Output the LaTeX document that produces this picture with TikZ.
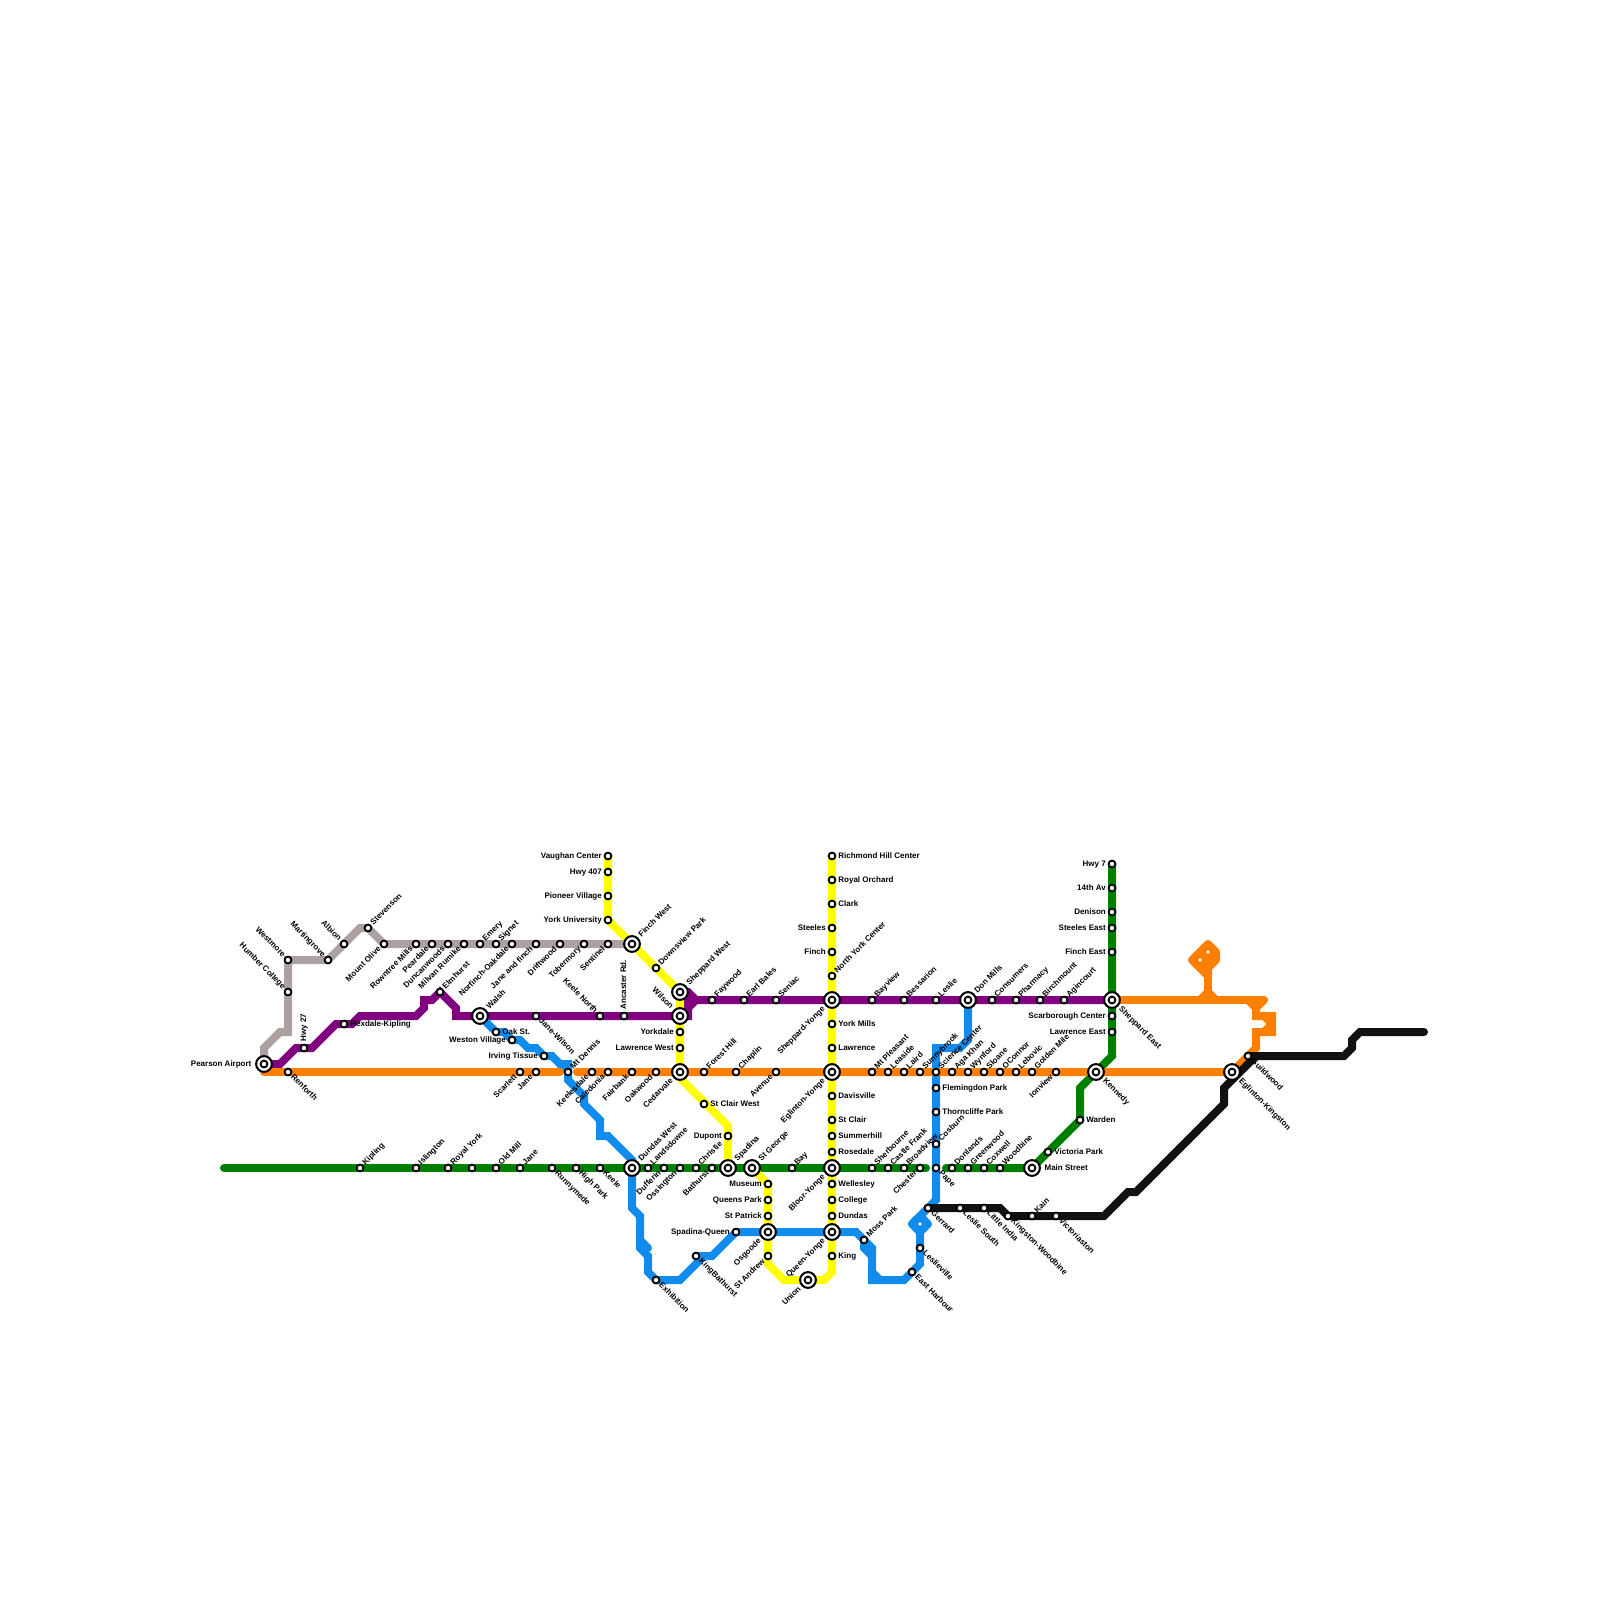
\documentclass[tikz,border=0pt]{standalone}
\usepackage{fontspec}
\setmainfont{Liberation Sans}
\definecolor{cgreen}{HTML}{008000}
\definecolor{cgrey}{HTML}{ACA0A0}
\definecolor{cpurple}{HTML}{800080}
\definecolor{cyellow}{HTML}{FFFF00}
\definecolor{cblue}{HTML}{118CED}
\definecolor{corange}{HTML}{FF8000}
\definecolor{cblack}{HTML}{111111}
\pgfdeclarelayer{bg}
\pgfsetlayers{bg,main}
\tikzset{
  stnode/.style={circle,draw=black,fill=white,line width=1.9pt,minimum size=6.8pt,inner sep=0pt,outer sep=0pt},
  xring/.style={circle,draw=black,fill=white,line width=2pt,minimum size=15.8pt,inner sep=0pt,outer sep=0pt},
  tinydot/.style={circle,fill=white,minimum size=3.6pt,inner sep=0pt,outer sep=0pt},
  lab/.style={inner sep=0pt,text height=5.8pt,text depth=1.6pt,font=\bfseries\fontsize{8}{9}\selectfont,text=black},
  lur/.style={xshift=4pt,yshift=4pt,rotate=45,anchor=west},
  ldr/.style={xshift=4pt,yshift=-4pt,rotate=-45,anchor=west},
  lul/.style={xshift=-4pt,yshift=4pt,rotate=-45,anchor=east},
  ldl/.style={xshift=-4pt,yshift=-4pt,rotate=45,anchor=east},
  ll/.style={xshift=-6pt,anchor=east},
  lr/.style={xshift=6.2pt,anchor=west},
  lu/.style={yshift=6.4pt,rotate=90,anchor=west},
  xur/.style={xshift=8pt,yshift=8pt,rotate=45,anchor=west},
  xdr/.style={xshift=8pt,yshift=-8pt,rotate=-45,anchor=west},
  xul/.style={xshift=-8pt,yshift=8pt,rotate=-45,anchor=east},
  xdl/.style={xshift=-8pt,yshift=-8pt,rotate=45,anchor=east},
  xl/.style={xshift=-12.4pt,anchor=east},
  xr/.style={xshift=12.4pt,anchor=west},
  metro/.style={line width=8pt,line cap=round,line join=miter},
  mfill/.style={line width=8pt,line cap=round,line join=round,fill},
}
\newcommand\stn[5]{\node[stnode] (#1) at (#2,#3) {};\node[lab,#4] (#1t) at (#1.center) {#5};}
\newcommand\xch[5]{\node[xring] (#1r) at (#2,#3) {};\node[stnode] (#1) at (#2,#3) {};\node[lab,#4] (#1t) at (#1.center) {#5};}
\begin{document}
\begin{tikzpicture}[x=1pt,y=-1pt]
\useasboundingbox (0,0) rectangle (1600,1600);
% interchanges
\xch{pearson}{264}{1064}{xl}{Pearson Airport}
\xch{finchwest}{632}{944}{xur}{Finch West}
\xch{walsh}{480}{1016}{xur}{Walsh}
\xch{sheppardwest}{680}{992}{xur}{Sheppard West}
\xch{wilson}{680}{1016}{xul}{Wilson}
\xch{cedarvale}{680}{1072}{xdl}{Cedarvale}
\xch{sheppardyonge}{832}{1000}{xdl}{Sheppard-Yonge}
\xch{eglintonyonge}{832}{1072}{xdl}{Eglinton-Yonge}
\xch{bloor}{832}{1168}{xdl}{Bloor-Yonge}
\xch{queenyonge}{832}{1232}{xdl}{Queen-Yonge}
\xch{osgoode}{768}{1232}{xdl}{Osgoode}
\xch{union}{808}{1280}{xdl}{Union}
\xch{dundaswest}{632}{1168}{xur}{Dundas West}
\xch{spadina}{728}{1168}{xur}{Spadina}
\xch{stgeorge}{752}{1168}{xur}{St George}
\xch{donmills}{968}{1000}{xur}{Don Mills}
\xch{sheppardeast}{1112}{1000}{xdr}{Sheppard East}
\xch{kennedy}{1096}{1072}{xdr}{Kennedy}
\xch{eglintonk}{1232}{1072}{xdr}{Eglinton-Kingston}
\xch{mainst}{1032}{1168}{xr}{Main Street}
% grey line
\stn{humber}{288}{992}{lul}{Humber College}
\stn{westmore}{288}{960}{lul}{Westmore}
\stn{martingrove}{328}{960}{lul}{Martingrove}
\stn{albion}{344}{944}{lul}{Albion}
\stn{stevenson}{368}{928}{lur}{Stevenson}
\stn{mountolive}{384}{944}{ldl}{Mount Olive}
\stn{rowntree}{416}{944}{ldl}{Rowntree Mills}
\stn{peardale}{432}{944}{ldl}{Peardale}
\stn{duncanwoods}{448}{944}{ldl}{Duncanwoods}
\stn{milvan}{464}{944}{ldl}{Milvan Rumike}
\stn{emery}{480}{944}{lur}{Emery}
\stn{signet}{496}{944}{lur}{Signet}
\stn{norfinch}{512}{944}{ldl}{Norfinch-Oakdale}
\stn{janefinch}{536}{944}{ldl}{Jane and finch}
\stn{driftwood}{560}{944}{ldl}{Driftwood}
\stn{tobermory}{584}{944}{ldl}{Tobermory}
\stn{sentinel}{608}{944}{ldl}{Sentinel}
% purple line
\stn{hwy27}{304}{1048}{lu}{Hwy 27}
\stn{rexdale}{344}{1024}{lr}{Rexdale-Kipling}
\stn{elmhurst}{440}{992}{lur}{Elmhurst}
\stn{janewilson}{536}{1016}{ldr}{Jane-Wilson}
\stn{keelenorth}{600}{1016}{lul}{Keele North}
\stn{ancaster}{624}{1016}{lu}{Ancaster Rd.}
\stn{faywood}{712}{1000}{lur}{Faywood}
\stn{earlbales}{744}{1000}{lur}{Earl Bales}
\stn{seniac}{776}{1000}{lur}{Seniac}
\stn{bayview}{872}{1000}{lur}{Bayview}
\stn{bessarion}{904}{1000}{lur}{Bessarion}
\stn{leslie}{936}{1000}{lur}{Leslie}
\stn{consumers}{992}{1000}{lur}{Consumers}
\stn{pharmacy}{1016}{1000}{lur}{Pharmacy}
\stn{birchmount}{1040}{1000}{lur}{Birchmount}
\stn{agincourt}{1064}{1000}{lur}{Agincourt}
% yellow lines
\stn{vaughan}{608}{856}{ll}{Vaughan Center}
\stn{hwyfour}{608}{872}{ll}{Hwy 407}
\stn{pioneer}{608}{896}{ll}{Pioneer Village}
\stn{yorku}{608}{920}{ll}{York University}
\stn{downsview}{656}{968}{lur}{Downsview Park}
\stn{yorkdale}{680}{1032}{ll}{Yorkdale}
\stn{lawrencew}{680}{1048}{ll}{Lawrence West}
\stn{stclairw}{704}{1104}{lr}{St Clair West}
\stn{dupont}{728}{1136}{ll}{Dupont}
\stn{museum}{768}{1184}{ll}{Museum}
\stn{queenspark}{768}{1200}{ll}{Queens Park}
\stn{stpatrick}{768}{1216}{ll}{St Patrick}
\stn{standrew}{768}{1256}{ldl}{St Andrew}
\stn{richmond}{832}{856}{lr}{Richmond Hill Center}
\stn{royalorchard}{832}{880}{lr}{Royal Orchard}
\stn{clark}{832}{904}{lr}{Clark}
\stn{steeles}{832}{928}{ll}{Steeles}
\stn{finch}{832}{952}{ll}{Finch}
\stn{northyork}{832}{976}{lur}{North York Center}
\stn{yorkmills}{832}{1024}{lr}{York Mills}
\stn{lawrence}{832}{1048}{lr}{Lawrence}
\stn{davisville}{832}{1096}{lr}{Davisville}
\stn{stclair}{832}{1120}{lr}{St Clair}
\stn{summerhill}{832}{1136}{lr}{Summerhill}
\stn{rosedale}{832}{1152}{lr}{Rosedale}
\stn{wellesley}{832}{1184}{lr}{Wellesley}
\stn{college}{832}{1200}{lr}{College}
\stn{dundas}{832}{1216}{lr}{Dundas}
\stn{king}{832}{1256}{lr}{King}
% green line
\stn{hwyseven}{1112}{864}{ll}{Hwy 7}
\stn{av14}{1112}{888}{ll}{14th Av}
\stn{denison}{1112}{912}{ll}{Denison}
\stn{steelese}{1112}{928}{ll}{Steeles East}
\stn{finche}{1112}{952}{ll}{Finch East}
\stn{scarborough}{1112}{1016}{ll}{Scarborough Center}
\stn{lawrencee}{1112}{1032}{ll}{Lawrence East}
\stn{warden}{1080}{1120}{lr}{Warden}
\stn{victoriap}{1048}{1152}{lr}{Victoria Park}
\stn{kipling}{360}{1168}{lur}{Kipling}
\stn{islington}{416}{1168}{lur}{Islington}
\stn{royalyork}{448}{1168}{lur}{Royal York}
\node[stnode] (unnamedg) at (472,1168) {};
\stn{oldmill}{496}{1168}{lur}{Old Mill}
\stn{janeg}{520}{1168}{lur}{Jane}
\stn{runnymede}{552}{1168}{ldr}{Runnymede}
\stn{highpark}{576}{1168}{ldr}{High Park}
\stn{keele}{600}{1168}{ldr}{Keele}
\stn{landsdowne}{648}{1168}{lur}{Landsdowne}
\stn{dufferin}{664}{1168}{ldl}{Dufferin}
\stn{ossington}{680}{1168}{ldl}{Ossington}
\stn{christie}{696}{1168}{lur}{Christie}
\stn{bathurst}{712}{1168}{ldl}{Bathurst}
\stn{bay}{792}{1168}{lur}{Bay}
\stn{sherbourne}{872}{1168}{lur}{Sherbourne}
\stn{castlefrank}{888}{1168}{lur}{Castle Frank}
\stn{broadview}{904}{1168}{lur}{Broadview}
\stn{chester}{920}{1168}{ldl}{Chester}
\stn{donlands}{952}{1168}{lur}{Donlands}
\stn{greenwood}{968}{1168}{lur}{Greenwood}
\stn{coxwell}{984}{1168}{lur}{Coxwell}
\stn{woodbine}{1000}{1168}{lur}{Woodbine}
% orange line
\stn{renforth}{288}{1072}{ldr}{Renforth}
\stn{scarlett}{520}{1072}{ldl}{Scarlett}
\stn{janeo}{536}{1072}{ldl}{Jane}
\stn{mtdennis}{568}{1072}{lur}{Mt Dennis}
\stn{keelesdale}{592}{1072}{ldl}{Keelesdale}
\stn{caledonia}{608}{1072}{ldl}{Caledonia}
\stn{fairbank}{632}{1072}{ldl}{Fairbank}
\stn{oakwood}{656}{1072}{ldl}{Oakwood}
\stn{foresthill}{704}{1072}{lur}{Forest Hill}
\stn{chaplin}{736}{1072}{lur}{Chaplin}
\stn{avenue}{776}{1072}{ldl}{Avenue}
\stn{mtpleasant}{872}{1072}{lur}{Mt Pleasant}
\stn{leaside}{888}{1072}{lur}{Leaside}
\stn{laird}{904}{1072}{lur}{Laird}
\stn{sunnybrook}{920}{1072}{lur}{Sunnybrook}
\stn{sciencecenter}{936}{1072}{lur}{Science Center}
\stn{agakhan}{952}{1072}{lur}{Aga Khan}
\stn{wynford}{968}{1072}{lur}{Wynford}
\stn{sloane}{984}{1072}{lur}{Sloane}
\stn{oconnor}{1000}{1072}{lur}{OConnor}
\stn{lebovic}{1016}{1072}{lur}{Lebovic}
\stn{goldenmile}{1032}{1072}{lur}{Golden Mile}
\stn{ionview}{1056}{1072}{ldl}{Ionview}
\stn{guildwood}{1248}{1056}{ldr}{Guildwood}
% blue line
\stn{oakst}{496}{1032}{lr}{Oak St.}
\stn{weston}{512}{1040}{ll}{Weston Village}
\stn{irving}{544}{1056}{ll}{Irving Tissue}
\stn{exhibition}{656}{1280}{ldr}{Exhibition}
\stn{kingbathurst}{696}{1256}{ldr}{KingBathurst}
\stn{spadinaqueen}{736}{1232}{ll}{Spadina-Queen}
\stn{mosspark}{864}{1240}{lur}{Moss Park}
\stn{eastharbour}{912}{1272}{ldr}{East Harbour}
\stn{leslieville}{920}{1248}{ldr}{Leslieville}
\stn{flemingdon}{936}{1088}{lr}{Flemingdon Park}
\stn{thorncliffe}{936}{1112}{lr}{Thorncliffe Park}
\stn{cosburn}{936}{1144}{lur}{Cosburn}
\stn{pape}{936}{1168}{ldr}{Pape}
% black line
\stn{gerrard}{928}{1208}{ldr}{Gerrard}
\stn{lesliesouth}{960}{1208}{ldr}{Leslie South}
\stn{littleindia}{984}{1208}{ldr}{Little India}
\stn{kingstonw}{1008}{1216}{ldr}{Kingston-Woodbine}
\stn{kain}{1032}{1216}{lur}{Kain}
\stn{victoriaston}{1056}{1216}{ldr}{Victoriaston}
% small white dots
\node[tinydot] (dotb) at (920,1224) {};
\node[tinydot] (dota) at (1208,952) {};
\node[tinydot] (dotc) at (1200,960) {};
% bends
\foreach \n/\x/\y in {
 ga/264/1048,gb/280/1032,gc/288/1032,gd/360/928,
 pa/280/1064,pb/296/1048,pc/312/1048,pd/336/1024,pe/352/1024,pf/360/1016,pg/416/1016,ph/424/1008,pi/424/1000,pj/432/1000,pk/456/1008,pl/456/1016,pm/688/1016,pn/688/1008,po/696/1000,pp/688/992,
 ya/680/1078,yb/728/1126,yc/768/1264,yd/784/1280,ye/824/1280,yf/832/1272,
 ea/1112/1056,eb/1080/1088,ec/946/1168,ed/926/1168,ee/224/1168,
 ba/504/1032,bb/520/1040,bc/528/1048,bd/536/1048,be/552/1056,bf/560/1064,bg/568/1064,bh/568/1080,bi/584/1096,bj/584/1104,bk/600/1120,bl/600/1136,bm/608/1136,bn/632/1160,bo/632/1208,bp/640/1216,bq/640/1248,br/648/1256,bs/648/1272,bt/680/1280,bu/704/1256,bv/712/1256,bw/856/1232,bx/872/1248,by/872/1280,bz/904/1280,
 ca/920/1264,cb/920/1232,cc/936/1200,cd/968/1040,ce/960/1048,cf/936/1048,cg/864/1248,ch/872/1256,ci/640/1240,cj/648/1248,ck/872/1272,cl/880/1280,cm/912/1224,cn/928/1224,co/920/1216,
 oa/264/1072,ob/560/1072,oc/577/1072,od/1256/1048,oe/1256/1032,of/1264/1032,og/1272/1024,oh/1264/1016,oi/1256/1016,oj/1256/1008,ok/1248/1000,ol/1272/1032,om/1272/1016,on/1264/1000,oo/1208/1000,op/1200/1000,oq/1208/992,or/1216/1000,
 os/1208/976,ot/1192/960,ou/1208/944,ov/1216/952,ow/1216/960,ox/1208/968,
 ka/1000/1208,kb/1104/1216,kc/1128/1192,kd/1136/1192,ke/1224/1104,kf/1224/1088,kg/1256/1056,kh/1344/1056,ki/1352/1048,kj/1352/1040,kk/1360/1032,kl/1424/1032}
 {\coordinate (\n) at (\x,\y);}
\begin{pgfonlayer}{bg}
% green
\draw[metro,cgreen] (hwyseven.center) -- (av14.center) -- (denison.center) -- (steelese.center) -- (finche.center) -- (sheppardeast.center) -- (scarborough.center) -- (lawrencee.center) -- (ea) -- (kennedy.center) -- (eb) -- (warden.center) -- (victoriap.center) -- (mainst.center) -- (woodbine.center) -- (coxwell.center) -- (greenwood.center) -- (donlands.center) -- (ec);
\draw[metro,cgreen] (ed) -- (chester.center) -- (broadview.center) -- (castlefrank.center) -- (sherbourne.center) -- (bloor.center) -- (bay.center) -- (stgeorge.center) -- (spadina.center) -- (bathurst.center) -- (christie.center) -- (ossington.center) -- (dufferin.center) -- (landsdowne.center) -- (dundaswest.center) -- (keele.center) -- (highpark.center) -- (runnymede.center) -- (janeg.center) -- (oldmill.center) -- (unnamedg.center) -- (royalyork.center) -- (islington.center) -- (kipling.center) -- (ee);
% grey
\draw[metro,cgrey] (pearson.center) -- (ga) -- (gb) -- (gc) -- (humber.center) -- (westmore.center) -- (martingrove.center) -- (albion.center) -- (gd) -- (stevenson.center) -- (mountolive.center) -- (rowntree.center) -- (peardale.center) -- (duncanwoods.center) -- (milvan.center) -- (emery.center) -- (signet.center) -- (norfinch.center) -- (janefinch.center) -- (driftwood.center) -- (tobermory.center) -- (sentinel.center) -- (finchwest.center);
% purple
\draw[metro,cpurple] (pearson.center) -- (pa) -- (pb) -- (hwy27.center) -- (pc) -- (pd) -- (rexdale.center) -- (pe) -- (pf) -- (pg) -- (ph) -- (pi) -- (pj) -- (elmhurst.center) -- (pk) -- (pl) -- (walsh.center) -- (janewilson.center) -- (keelenorth.center) -- (ancaster.center) -- (wilson.center) -- (pm) -- (pn) -- (po) -- (faywood.center) -- (earlbales.center) -- (seniac.center) -- (sheppardyonge.center) -- (bayview.center) -- (bessarion.center) -- (leslie.center) -- (donmills.center) -- (consumers.center) -- (pharmacy.center) -- (birchmount.center) -- (agincourt.center) -- (sheppardeast.center);
\draw[metro,cpurple] (sheppardwest.center) -- (pp) -- (po);
\draw[metro,cpurple] (pp) -- (pm);
% yellow
\draw[metro,cyellow] (vaughan.center) -- (hwyfour.center) -- (pioneer.center) -- (yorku.center) -- (finchwest.center) -- (downsview.center) -- (sheppardwest.center) -- (wilson.center) -- (yorkdale.center) -- (lawrencew.center) -- (cedarvale.center) -- (ya) -- (yb) -- (dupont.center) -- (spadina.center);
\draw[metro,cyellow] (stgeorge.center) -- (museum.center) -- (queenspark.center) -- (stpatrick.center) -- (osgoode.center) -- (standrew.center) -- (yc) -- (yd) -- (union.center) -- (ye) -- (yf) -- (king.center) -- (queenyonge.center) -- (dundas.center) -- (college.center) -- (wellesley.center) -- (bloor.center) -- (rosedale.center) -- (summerhill.center) -- (stclair.center) -- (davisville.center) -- (eglintonyonge.center) -- (lawrence.center) -- (yorkmills.center) -- (sheppardyonge.center) -- (northyork.center) -- (finch.center) -- (steeles.center) -- (clark.center) -- (royalorchard.center) -- (richmond.center);
% blue
\draw[metro,cblue] (walsh.center) -- (oakst.center) -- (ba) -- (weston.center) -- (bb) -- (bc) -- (bd) -- (irving.center) -- (be) -- (bf) -- (bg) -- (mtdennis.center) -- (bh) -- (bi) -- (bj) -- (bk) -- (bl) -- (bm) -- (bn) -- (dundaswest.center) -- (bo) -- (bp) -- (bq) -- (br) -- (bs) -- (exhibition.center) -- (bt) -- (bu) -- (bv) -- (spadinaqueen.center) -- (osgoode.center) -- (queenyonge.center) -- (bw) -- (mosspark.center) -- (bx) -- (by) -- (bz) -- (eastharbour.center) -- (ca) -- (leslieville.center) -- (cb);
\draw[metro,cblue] (bf) -- (mtdennis.center);
\draw[metro,cblue] (ci) -- (cj);
\draw[metro,cblue] (kingbathurst.center) -- (bu);
\draw[metro,cblue] (mosspark.center) -- (cg) -- (ch);
\draw[metro,cblue] (ck) -- (cl);
\draw[mfill,cblue] (cb) -- (cm) -- (co) -- (cn) -- cycle;
\draw[metro,cblue] (cm) -- (gerrard.center) -- (cc) -- (pape.center) -- (cosburn.center) -- (thorncliffe.center) -- (flemingdon.center) -- (sciencecenter.center) -- (cf) -- (ce) -- (cd) -- (donmills.center);
% orange
\draw[metro,corange] (oa) -- (renforth.center) -- (scarlett.center) -- (janeo.center) -- (ob);
\draw[metro,corange] (oc) -- (keelesdale.center) -- (caledonia.center) -- (fairbank.center) -- (oakwood.center) -- (cedarvale.center) -- (foresthill.center) -- (chaplin.center) -- (avenue.center) -- (eglintonyonge.center) -- (mtpleasant.center) -- (leaside.center) -- (laird.center) -- (sunnybrook.center) -- (sciencecenter.center) -- (agakhan.center) -- (wynford.center) -- (sloane.center) -- (oconnor.center) -- (lebovic.center) -- (goldenmile.center) -- (ionview.center) -- (kennedy.center) -- (eglintonk.center) -- (guildwood.center) -- (od) -- (oe) -- (of) -- (ol) -- (om) -- (oi) -- (oj) -- (ok);
\draw[metro,corange] (of) -- (og);
\draw[metro,corange] (og) -- (oh);
\draw[metro,corange] (oj) -- (on);
\draw[metro,corange] (on) -- (ok);
\draw[metro,corange] (ok) -- (oo) -- (sheppardeast.center);
\draw[metro,corange] (op) -- (oq);
\draw[metro,corange] (oq) -- (or);
\draw[metro,corange] (oo) -- (os);
\draw[mfill,corange] (os) -- (ot) -- (ou) -- (ov) -- (ow) -- (ox) -- cycle;
% black
\draw[metro,cblack] (gerrard.center) -- (lesliesouth.center) -- (littleindia.center) -- (ka) -- (kingstonw.center) -- (kain.center) -- (victoriaston.center) -- (kb) -- (kc) -- (kd) -- (ke) -- (kf) -- (kg) -- (kh) -- (ki) -- (kj) -- (kk) -- (kl);
\draw[metro,cblack] (guildwood.center) -- (kg);
\end{pgfonlayer}
\end{tikzpicture}
\end{document}
